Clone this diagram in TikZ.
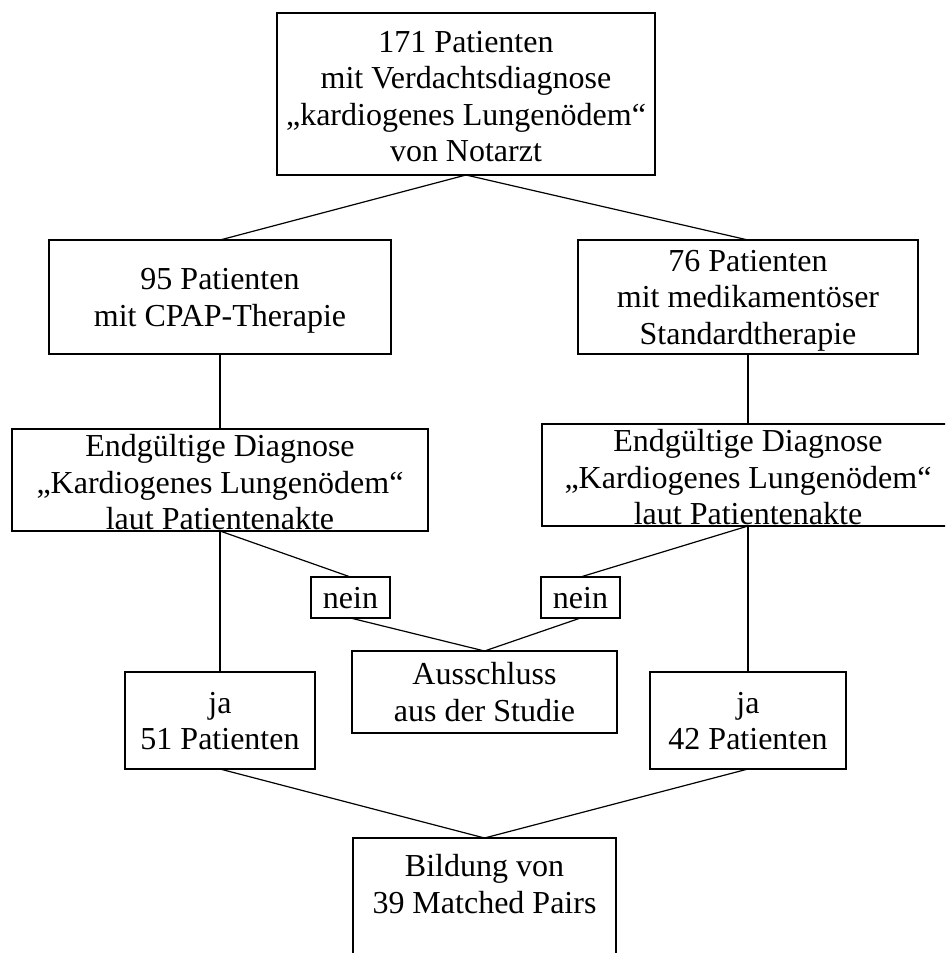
\documentclass[tikz,border=0pt]{standalone}
\usepackage{fontspec}
\setmainfont{Liberation Serif}
\newcommand\lstr{\rule[-0.216em]{0pt}{1.107em}}
\begin{document}
\begin{tikzpicture}[x=1pt,y=-1pt,
  box/.style={draw=black, line width=1.2pt, inner sep=0pt, outer sep=0pt, rectangle},
  txt/.style={inner sep=0pt, outer sep=0pt, align=center, font=\fontsize{32}{36.5}\selectfont},
  conn/.style={draw=black, line width=1.2pt}]
\useasboundingbox (0,0) rectangle (945,953);
\clip (0,0) rectangle (945,953);
% boxes
\node[box, minimum width=378pt, minimum height=162pt] (top)   at (466,94)    {};
\node[box, minimum width=342pt, minimum height=114pt] (b2L)   at (220,297)   {};
\node[box, minimum width=340pt, minimum height=114pt] (b2R)   at (748,297)   {};
\node[box, minimum width=416pt, minimum height=102pt] (b3L)   at (220,480)   {};
\node[box, minimum width=412pt, minimum height=102pt] (b3R)   at (748,475)   {};
\node[box, minimum width=79pt,  minimum height=41pt]  (neinL) at (350.5,597.5) {};
\node[box, minimum width=79pt,  minimum height=41pt]  (neinR) at (580.5,597.5) {};
\node[box, minimum width=265pt, minimum height=82pt]  (aus)   at (484.5,692) {};
\node[box, minimum width=190pt, minimum height=97pt]  (jaL)   at (220,720.5) {};
\node[box, minimum width=196pt, minimum height=97pt]  (jaR)   at (748,720.5) {};
\node[box, minimum width=263pt, minimum height=142pt] (bot)   at (484.5,909) {};
% texts
\node[txt] (topT) at ([yshift=-2pt]top.center) {\lstr 171 Patienten\\mit Verdachtsdiagnose\\„kardiogenes Lungenödem“\\\lstr von Notarzt};
\node[txt] (b2LT) at (b2L.center) {\lstr 95 Patienten\\\lstr mit CPAP-Therapie};
\node[txt] (b2RT) at (b2R.center) {\lstr 76 Patienten\\mit medikamentöser\\\lstr Standardtherapie};
\node[txt] (b3LT) at ([yshift=-2.5pt]b3L.center) {\lstr Endgültige Diagnose\\„Kardiogenes Lungenödem“\\\lstr laut Patientenakte};
\node[txt] (b3RT) at ([yshift=-2.5pt]b3R.center) {\lstr Endgültige Diagnose\\„Kardiogenes Lungenödem“\\\lstr laut Patientenakte};
\node[txt] (neinLT) at (neinL.center) {\lstr nein};
\node[txt] (neinRT) at (neinR.center) {\lstr nein};
\node[txt] (ausT) at (aus.center) {\lstr Ausschluss\\\lstr aus der Studie};
\node[txt] (jaLT) at (jaL.center) {\lstr ja\\\lstr 51 Patienten};
\node[txt] (jaRT) at (jaR.center) {\lstr ja\\\lstr 42 Patienten};
\node[txt] (botT) at (484.5,884) {\lstr Bildung von\\\lstr 39 Matched Pairs};
% connectors
\draw[conn] (top.south) -- (b2L.north);
\draw[conn] (top.south) -- (b2R.north);
\draw[conn] (b2L.south) -- (b3L.north);
\draw[conn] (b2R.south) -- (b3R.north);
\draw[conn] (b3L.south) -- (jaL.north);
\draw[conn] (b3L.south) -- (neinL.north);
\draw[conn] (b3R.south) -- (jaR.north);
\draw[conn] (b3R.south) -- (neinR.north);
\draw[conn] (neinL.south) -- (aus.north);
\draw[conn] (neinR.south) -- (aus.north);
\draw[conn] (jaL.south) -- (bot.north);
\draw[conn] (jaR.south) -- (bot.north);
\end{tikzpicture}
\end{document}
